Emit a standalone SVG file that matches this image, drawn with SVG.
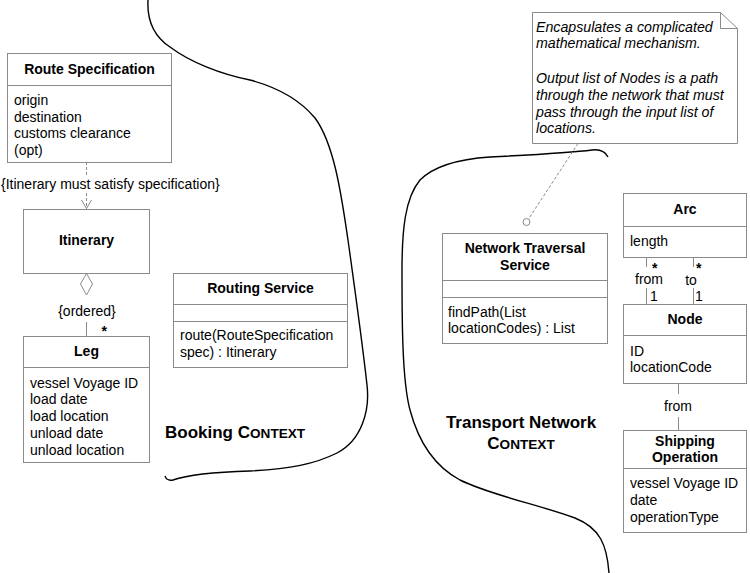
<svg xmlns="http://www.w3.org/2000/svg" width="750" height="573" viewBox="0 0 750 573">
<style>
.box{fill:#fff;stroke:#8a8a8a;stroke-width:1}
.ln{fill:none;stroke:#8a8a8a;stroke-width:1}
.dash{fill:none;stroke:#8a8a8a;stroke-width:1;stroke-dasharray:3,2}
.curve{fill:none;stroke:#000;stroke-width:1.4}
text{font-family:"Liberation Sans",Arial,sans-serif;font-size:14px;fill:#000}
.b{font-weight:bold}
.c{text-anchor:middle}
.i{font-style:italic;font-size:14.2px}
.ctx{font-size:17px;font-weight:bold}
.sc{font-size:13.6px}
.st{font-size:14px;font-weight:bold}
</style>
<rect width="750" height="573" fill="#fff"/>

<g id="boundaries">
<path class="curve" d="M148,0 C147,18 152,35 170,47 C190,62 220,74 250,80 C280,88 300,100 315,118 C335,145 342,200 348,240 C355,290 362,340 367,385 C370,410 362,440 337,453 C315,464 290,469 250,471 C215,472 190,474 173,480 C169,481 166,479 165,476"/>
<path class="curve" d="M608,157 C605,151 600,149 592,150 C570,153 530,155 490,157 C460,159 435,165 420,180 C405,198 402,230 402,270 C402,320 402,380 410,410 C418,440 432,465 460,480 C490,495 540,505 575,518 C600,528 607,545 609,573"/>
</g>

<g id="connectors">
<line class="dash" x1="86.5" y1="162" x2="86.5" y2="175"/>
<line class="dash" x1="86.5" y1="193" x2="86.5" y2="209"/>
<polyline class="ln" points="81.5,200 86.5,208.5 91.5,200"/>
<text x="1" y="189">{Itinerary must satisfy specification}</text>
<polygon class="box" points="86.5,273.5 92.5,284 86.5,295 80.5,284"/>
<line class="ln" x1="86.5" y1="322" x2="86.5" y2="336"/>
<text class="c" x="87" y="316">{ordered}</text>
<text class="st" x="101.5" y="336">*</text>
<line class="dash" x1="578" y1="143.5" x2="528.5" y2="219"/>
<circle class="box" cx="526.5" cy="222" r="3.5"/>
<line class="ln" x1="646.5" y1="257" x2="646.5" y2="267"/>
<line class="ln" x1="646.5" y1="288" x2="646.5" y2="304"/>
<line class="ln" x1="693.5" y1="257" x2="693.5" y2="267"/>
<line class="ln" x1="693.5" y1="288" x2="693.5" y2="304"/>
<text class="st" x="652" y="273">*</text>
<text class="c" x="649" y="284">from</text>
<text x="650" y="301">1</text>
<text class="st" x="696" y="273">*</text>
<text class="c" x="691" y="285">to</text>
<text x="695" y="301">1</text>
<line class="ln" x1="678.5" y1="383" x2="678.5" y2="394"/>
<line class="ln" x1="678.5" y1="417" x2="678.5" y2="430"/>
<text class="c" x="678" y="411">from</text>
</g>

<g id="route-specification">
<rect class="box" x="7.5" y="53.5" width="164" height="109"/>
<line class="ln" x1="7.5" y1="85.5" x2="171.5" y2="85.5"/>
<text class="b c" x="89.5" y="74">Route Specification</text>
<text x="14" y="105">origin</text>
<text x="14" y="122">destination</text>
<text x="14" y="138">customs clearance</text>
<text x="14" y="155">(opt)</text>
</g>

<g id="itinerary">
<rect class="box" x="23.5" y="209.5" width="126" height="64"/>
<text class="b c" x="86.5" y="245">Itinerary</text>
</g>

<g id="leg">
<rect class="box" x="23.5" y="336.5" width="126" height="126"/>
<line class="ln" x1="23.5" y1="367.5" x2="149.5" y2="367.5"/>
<text class="b c" x="86.5" y="356">Leg</text>
<text x="30" y="388">vessel Voyage ID</text>
<text x="30" y="404">load date</text>
<text x="30" y="421">load location</text>
<text x="30" y="438">unload date</text>
<text x="30" y="455">unload location</text>
</g>

<g id="routing-service">
<rect class="box" x="173.5" y="273.5" width="174" height="94"/>
<line class="ln" x1="173.5" y1="304.5" x2="347.5" y2="304.5"/>
<line class="ln" x1="173.5" y1="321.5" x2="347.5" y2="321.5"/>
<text class="b c" x="260.5" y="293">Routing Service</text>
<text x="180" y="340">route(RouteSpecification</text>
<text x="180" y="357">spec) : Itinerary</text>
</g>

<g id="booking-context">
<text class="ctx" x="165" y="438">Booking C<tspan class="sc">ONTEXT</tspan></text>
</g>

<g id="note">
<path class="box" d="M532.5,12.5 H720.5 L737.5,28.5 V143.5 H532.5 Z"/>
<polyline class="ln" points="720.5,12.5 720.5,28.5 737.5,28.5"/>
<text class="i" x="536" y="32">Encapsulates a complicated</text>
<text class="i" x="536" y="48">mathematical mechanism.</text>
<text class="i" x="536" y="83">Output list of Nodes is a path</text>
<text class="i" x="536" y="100">through the network that must</text>
<text class="i" x="536" y="117">pass through the input list of</text>
<text class="i" x="536" y="133">locations.</text>
</g>

<g id="network-traversal-service">
<rect class="box" x="442.5" y="233.5" width="165" height="110"/>
<line class="ln" x1="442.5" y1="280.5" x2="607.5" y2="280.5"/>
<line class="ln" x1="442.5" y1="297.5" x2="607.5" y2="297.5"/>
<text class="b c" x="525" y="253">Network Traversal</text>
<text class="b c" x="525" y="270">Service</text>
<text x="448" y="317">findPath(List</text>
<text x="448" y="333">locationCodes) : List</text>
</g>

<g id="arc">
<rect class="box" x="623.5" y="193.5" width="123" height="64"/>
<line class="ln" x1="623.5" y1="226.5" x2="746.5" y2="226.5"/>
<text class="b c" x="685" y="214">Arc</text>
<text x="630" y="246">length</text>
</g>

<g id="node">
<rect class="box" x="623.5" y="304.5" width="123" height="79"/>
<line class="ln" x1="623.5" y1="335.5" x2="746.5" y2="335.5"/>
<text class="b c" x="685" y="324">Node</text>
<text x="630" y="356">ID</text>
<text x="630" y="372">locationCode</text>
</g>

<g id="shipping-operation">
<rect class="box" x="623.5" y="430.5" width="123" height="102"/>
<line class="ln" x1="623.5" y1="468.5" x2="746.5" y2="468.5"/>
<text class="b c" x="685" y="446">Shipping</text>
<text class="b c" x="685" y="462">Operation</text>
<text x="630" y="488">vessel Voyage ID</text>
<text x="630" y="505">date</text>
<text x="630" y="522">operationType</text>
</g>

<g id="transport-network-context">
<text class="ctx c" x="521" y="428">Transport Network</text>
<text class="ctx c" x="521" y="449">C<tspan class="sc">ONTEXT</tspan></text>
</g>
</svg>
